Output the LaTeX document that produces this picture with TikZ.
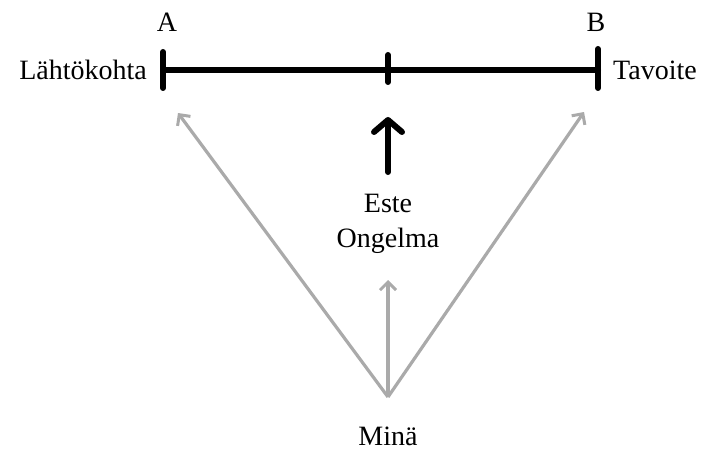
\documentclass[tikz,border=0pt]{standalone}
\usepackage{fontspec}
\setmainfont{Liberation Serif}
\usetikzlibrary{arrows.meta}
\definecolor{arrgray}{RGB}{170,170,170}
\begin{document}
\begin{tikzpicture}[x=1pt,y=-1pt,
  lbl/.style={inner sep=0pt, font=\fontsize{28}{33}\selectfont},
  thick line/.style={line width=6pt, line cap=round},
  grayarrow/.style={draw=arrgray, line width=3.2pt, -{Straight Barb[length=8pt,width=16pt,line width=3pt]}},
  blackarrow/.style={line width=6pt, line cap=round, -{Straight Barb[length=12pt,width=28pt,round,line width=6pt]}}]
\useasboundingbox (0,0) rectangle (718,452);
\coordinate (L) at (163,70);
\coordinate (R) at (598,70);
\coordinate (M) at (388,70);
\draw[thick line] (L) -- (R);
\draw[thick line] (163,52) -- (163,88);
\draw[thick line] (598,49) -- (598,88);
\draw[thick line] (388,55) -- (388,82);
\node[lbl] (A) at (167,22) {A};
\node[lbl] (B) at (596,22) {B};
\node[lbl, anchor=east] (start) at (147,70) {Lähtökohta};
\node[lbl, anchor=west] (goal) at (613,70) {Tavoite};
\node[lbl] (este) at (388,203) {Este};
\node[lbl] (ongelma) at (388,241) {Ongelma};
\node[lbl] (mina) at (388,436) {Minä};
\coordinate (O) at (388,397);
\coordinate (Ta) at (388,117);
\coordinate (Fa) at (388,172);
\coordinate (G1) at (178,113);
\coordinate (G2) at (584,112);
\coordinate (G3) at (388,280);
\draw[blackarrow] (Fa) -- (Ta);
\draw[grayarrow] (O) -- (G1);
\draw[grayarrow] (O) -- (G2);
\draw[grayarrow] (O) -- (G3);
\end{tikzpicture}
\end{document}
